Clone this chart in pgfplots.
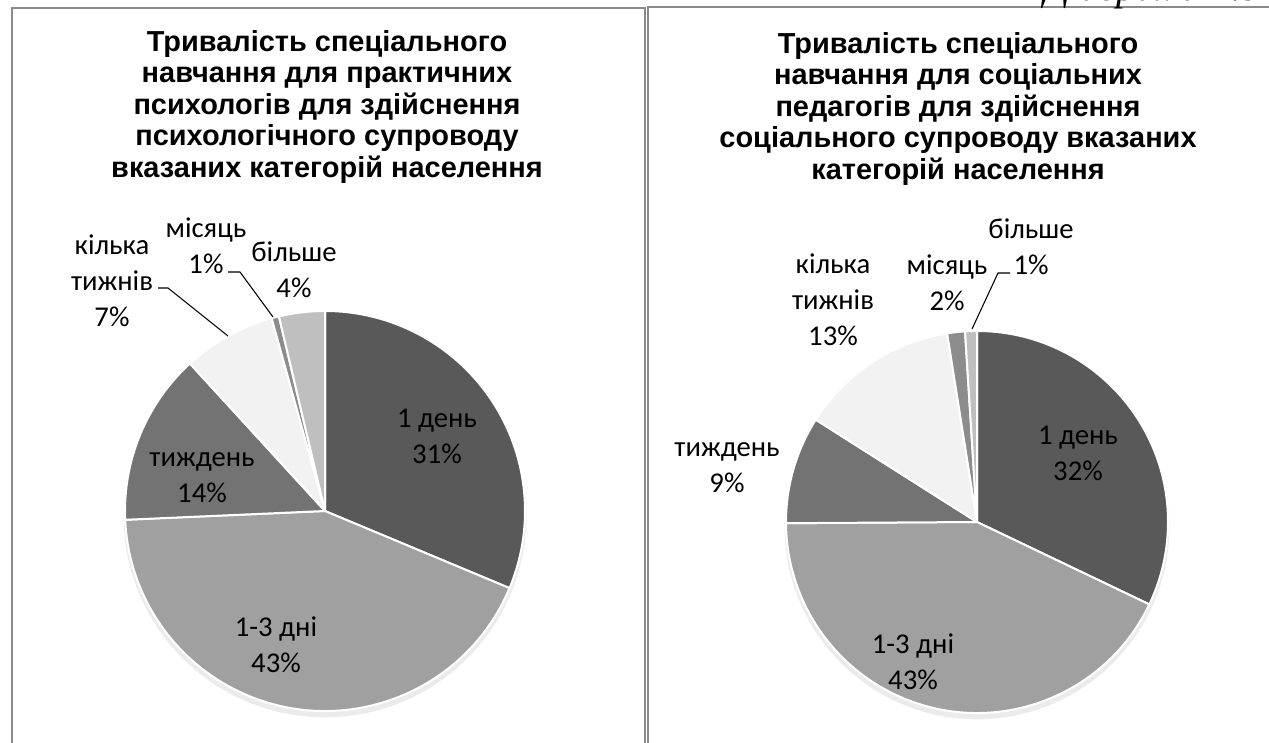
\documentclass[border=0pt]{standalone}
\usepackage{fontspec}
\setmainfont{Carlito}
\newfontfamily\titlefont{Liberation Sans}
\newfontfamily\captfont{Liberation Serif}
\usepackage{pgfplots}
\pgfplotsset{compat=1.18}

\definecolor{sA}{HTML}{595959}  % 1 день
\definecolor{sB}{HTML}{A0A0A0}  % 1-3 дні
\definecolor{sC}{HTML}{737373}  % тиждень
\definecolor{sD}{HTML}{F2F2F2}  % кілька тижнів
\definecolor{sE}{HTML}{8C8C8C}  % місяць
\definecolor{sF}{HTML}{BFBFBF}  % більше
\definecolor{frame}{HTML}{8A8A8A}

% pie from value/colour pairs, clockwise from 12 o'clock
\newcommand{\pieslices}[2]{%
  \gdef\cumangle{90}%
  \foreach \v/\col in {#2} {%
    \pgfmathsetmacro{\endangle}{\cumangle - 3.6*\v}%
    \fill[\col, draw=white, line width=1.5pt, line join=round]
      (axis cs:0,0) -- +(\cumangle:#1) arc[start angle=\cumangle, end angle=\endangle, radius=#1] -- cycle;%
    \xdef\cumangle{\endangle}%
  }%
}

\tikzset{
  lbl/.style={align=center, inner sep=0pt, text=black, font=\fontsize{21.5}{27}\selectfont},
  ttl/.style={align=center, anchor=north, inner sep=0pt, font=\titlefont\bfseries\fontsize{21.7}{23.6}\selectfont},
}
\pgfplotsset{
  pieaxis/.style={anchor=origin, hide axis, x=0.75pt, y=0.75pt,
    xmin=-215, xmax=215, ymin=-215, ymax=215, clip=false},
}

\begin{document}
\begin{tikzpicture}[x=0.75pt, y=0.75pt]
\path[use as bounding box, clip] (0,0) rectangle (1269,742);
\fill[white] (0,0) rectangle (1269,742);

% panel frames
\draw[frame, line width=1.5pt] (12,-10) -- (12,734) -- (645,734) -- (645,-10);
\draw[frame, line width=1.5pt] (648,-10) -- (648,735) -- (1280,735);

% cut-off caption at the top right
\node[anchor=base east, inner sep=0pt, font=\captfont\itshape\fontsize{30}{34}\selectfont] at (1262,741) {Діаграма 2.9};

% titles
\node[ttl] at (327,712) {Тривалість спеціального\\навчання для практичних\\психологів для здійснення\\психологічного супроводу\\вказаних категорій населення};
\node[ttl] at (958,710) {Тривалість спеціального\\навчання для соціальних\\педагогів для здійснення\\соціального супроводу вказаних\\категорій населення};

% ---------------- left pie ----------------
\begin{axis}[pieaxis, at={(243.75pt,173.25pt)}]
\pgfplotsextra{
  \fill[black, opacity=0.08] (axis cs:0,-5) circle[radius=151pt];
  \pieslices{150pt}{31.3/sA, 43.0/sB, 13.9/sC, 7.5/sD, 0.6/sE, 3.7/sF}
}
\node[lbl] at (axis cs:112,75) {1 день\\31\%};
\node[lbl] at (axis cs:-49,-134) {1-3 дні\\43\%};
\node[lbl] at (axis cs:-123,33) {тиждень\\14\%};
\node[lbl] at (axis cs:-213,230) {кілька\\тижнів\\7\%};
\node[lbl] at (axis cs:-119,265) {місяць\\1\%};
\node[lbl] at (axis cs:-31,241) {більше\\4\%};
\end{axis}
\draw[black, line width=0.8pt] (158,454) -- (168,454) -- (228,406);
\draw[black, line width=0.8pt] (228,470) -- (240,470) -- (273,425);

% ---------------- right pie ----------------
\begin{axis}[pieaxis, at={(732.75pt,165pt)}]
\pgfplotsextra{
  \fill[black, opacity=0.08] (axis cs:0,-5) circle[radius=144.25pt];
  \pieslices{143.25pt}{32.1/sA, 42.8/sB, 9.1/sC, 13.5/sD, 1.5/sE, 1.0/sF}
}
\node[lbl] at (axis cs:101,69) {1 день\\32\%};
\node[lbl] at (axis cs:-64,-140) {1-3 дні\\43\%};
\node[lbl] at (axis cs:-250,54) {тиждень\\9\%};
\node[lbl] at (axis cs:-144,222) {кілька\\тижнів\\13\%};
\node[lbl] at (axis cs:-30,239) {місяць\\2\%};
\node[lbl] at (axis cs:54,275) {більше\\1\%};
\end{axis}
\draw[black, line width=0.8pt] (1010,469) -- (998,469) -- (972,413);
\end{tikzpicture}
\end{document}
